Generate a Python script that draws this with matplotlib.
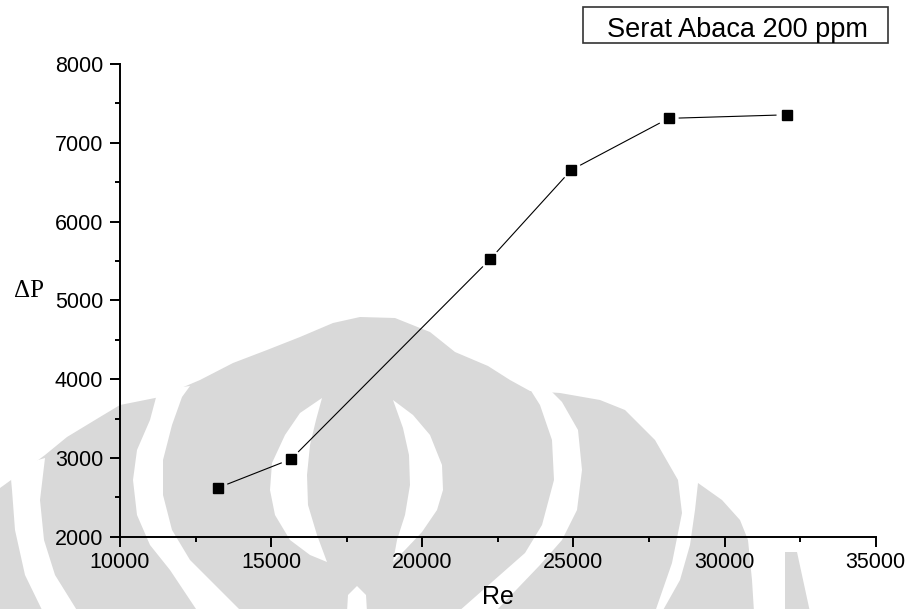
import numpy as np
import matplotlib
matplotlib.use("Agg")
import matplotlib.pyplot as plt
from matplotlib.patches import Polygon, Rectangle
from matplotlib.ticker import MultipleLocator

plt.rcParams['font.family'] = ['Liberation Sans', 'DejaVu Sans']

# Measured data: Reynolds number vs pressure drop
re_values = [13240, 15660, 22240, 24930, 28150, 32050]
dp_values = [2620, 2985, 5520, 6655, 7310, 7355]

x_ticks = [10000, 15000, 20000, 25000, 30000, 35000]
y_ticks = [2000, 3000, 4000, 5000, 6000, 7000, 8000]
title_text = "Serat Abaca 200 ppm"

W, H = 911, 609
fig = plt.figure(figsize=(W / 100, H / 100), dpi=100)
fig.patch.set_facecolor('white')

# ---- background emblem (pixel coordinates, y downward) ----
bg = fig.add_axes([0, 0, 1, 1], zorder=0)
bg.set_xlim(0, W)
bg.set_ylim(H, 0)
bg.axis('off')
gray = '#d9d9d9'

outer = [(0, 488), (25, 470), (45, 455), (67, 437), (100, 417), (120, 405),
         (160, 397), (200, 380), (233, 363), (267, 350), (300, 337),
         (333, 323), (360, 317), (395, 318), (430, 332), (455, 352),
         (488, 366), (510, 380), (530, 391), (560, 393), (600, 400),
         (625, 410), (655, 440), (678, 480), (682, 513), (672, 563),
         (655, 612), (0, 612)]
lobe = [(698, 483), (722, 500), (740, 520), (748, 540), (752, 580),
        (754, 612), (662, 612), (680, 580), (690, 545), (695, 510)]
shard = [(785, 552), (797, 552), (810, 612), (785, 612)]
for shp in (outer, lobe, shard):
    bg.add_patch(Polygon(shp, closed=True, facecolor=gray, edgecolor='none'))

cuts = [
    [(10, 468), (45, 458), (40, 500), (44, 540), (55, 575), (78, 612),
     (43, 612), (25, 575), (15, 530), (12, 490)],
    [(158, 390), (190, 386), (182, 397), (172, 425), (163, 460), (163, 495),
     (172, 530), (190, 560), (215, 585), (242, 612), (198, 612), (170, 570),
     (150, 545), (137, 515), (133, 480), (137, 450), (150, 420)],
    [(322, 398), (300, 413), (285, 435), (272, 463), (270, 490), (275, 515),
     (290, 540), (310, 555), (327, 562), (317, 535), (308, 505), (307, 475),
     (310, 445), (316, 420)],
    [(393, 400), (413, 415), (430, 435), (442, 465), (443, 490), (437, 510),
     (422, 532), (405, 550), (393, 562), (397, 540), (405, 515), (410, 485),
     (409, 455), (403, 428)],
    [(347, 612), (348, 595), (357, 586), (366, 595), (367, 612)],
    [(528, 386), (550, 390), (562, 402), (578, 430), (582, 470), (577, 510),
     (562, 540), (540, 565), (495, 612), (458, 612), (500, 575), (525, 553),
     (542, 525), (554, 480), (552, 440), (540, 405)],
]
for shp in cuts:
    bg.add_patch(Polygon(shp, closed=True, facecolor='white', edgecolor='none'))

# ---- main chart ----
x0, x1 = 120, 875.7
y_top, y_bot = 64, 536.7
ax = fig.add_axes([x0 / W, (H - y_bot) / H, (x1 - x0) / W, (y_bot - y_top) / H],
                  zorder=1)
ax.set_facecolor('none')
ax.set_xlim(x_ticks[0], x_ticks[-1])
ax.set_ylim(y_ticks[0], y_ticks[-1])
ax.set_xticks(x_ticks)
ax.set_yticks(y_ticks)
ax.xaxis.set_minor_locator(MultipleLocator(2500))
ax.yaxis.set_minor_locator(MultipleLocator(500))
for side in ('top', 'right'):
    ax.spines[side].set_visible(False)
for side in ('left', 'bottom'):
    ax.spines[side].set_linewidth(1.4)
    ax.spines[side].set_color('black')
ax.tick_params(which='major', direction='out', length=7.2, width=1.4,
               labelsize=15.5, colors='black')
ax.tick_params(axis='y', which='major', pad=5)
ax.tick_params(axis='x', which='major', pad=3.5)
ax.tick_params(which='minor', direction='out', length=3.6, width=1.4)

# connecting segments, stopping short of each marker
pts = ax.transData.transform(np.column_stack([re_values, dp_values]))
inv = ax.transData.inverted()
gap = 10.0
for a, b in zip(pts[:-1], pts[1:]):
    d = b - a
    u = d / np.hypot(*d)
    seg = inv.transform(np.vstack([a + u * gap, b - u * gap]))
    ax.plot(seg[:, 0], seg[:, 1], color='black', lw=0.8, solid_capstyle='butt',
            clip_on=False)
ax.plot(re_values, dp_values, linestyle='none', marker='s', markersize=7.2,
        color='black', clip_on=False)

ax.set_xlabel('Re', fontsize=18, labelpad=9)
fig.text(14 / W, 1 - 297 / H, 'ΔP', fontsize=18,
         family=['Liberation Serif', 'DejaVu Serif'], ha='left', va='baseline')

# title box
fig.patches.append(Rectangle((583 / W, 1 - 43 / H), 305 / W, 36 / H,
                             transform=fig.transFigure, facecolor='white',
                             edgecolor='#333333', linewidth=1.2))
fig.text(737 / W, 1 - 27 / H, title_text, fontsize=19.5, ha='center',
         va='center_baseline')

fig.savefig('out.png', dpi=100, facecolor='white')
